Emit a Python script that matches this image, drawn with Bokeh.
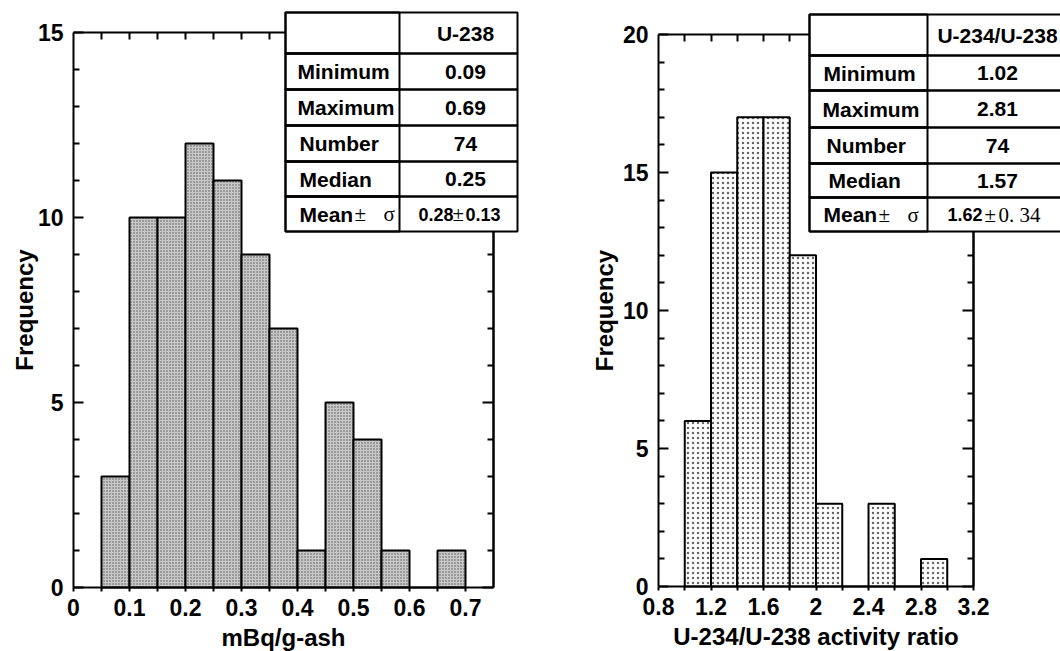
from bokeh.plotting import figure
from bokeh.models import LinearAxis, FixedTicker, Range1d, BoxAnnotation, Label
from bokeh.layouts import row
from bokeh.embed import file_html
from bokeh.resources import INLINE

# ---------------- data ----------------
u238_bin_lo = [0.05, 0.10, 0.15, 0.20, 0.25, 0.30, 0.35, 0.40, 0.45, 0.50, 0.55, 0.60, 0.65]
u238_bin_hi = [0.10, 0.15, 0.20, 0.25, 0.30, 0.35, 0.40, 0.45, 0.50, 0.55, 0.60, 0.65, 0.70]
u238_counts = [3, 10, 10, 12, 11, 9, 7, 1, 5, 4, 1, 0, 1]

ratio_bin_lo = [1.0, 1.2, 1.4, 1.6, 1.8, 2.0, 2.2, 2.4, 2.6, 2.8]
ratio_bin_hi = [1.2, 1.4, 1.6, 1.8, 2.0, 2.2, 2.4, 2.6, 2.8, 3.0]
ratio_counts = [6, 15, 17, 17, 12, 3, 0, 3, 0, 1]

u238_tick_values = [0.0, 0.1, 0.2, 0.3, 0.4, 0.5, 0.6, 0.7]
u238_tick_labels = ["0", "0.1", "0.2", "0.3", "0.4", "0.5", "0.6", "0.7"]
u238_minor_ticks = [0.05, 0.15, 0.25, 0.35, 0.45, 0.55, 0.65]
ratio_tick_values = [0.8, 1.2, 1.6, 2.0, 2.4, 2.8, 3.2]
ratio_tick_labels = ["0.8", "1.2", "1.6", "2", "2.4", "2.8", "3.2"]
ratio_minor_ticks = [1.0, 1.4, 1.8, 2.2, 2.6, 3.0]
u238_freq_ticks = [0, 5, 10, 15]
u238_freq_labels = ["0", "5", "10", "15"]
ratio_freq_ticks = [0, 5, 10, 15, 20]
ratio_freq_labels = ["0", "5", "10", "15", "20"]

stat_names = ["Minimum", "Maximum", "Number", "Median"]
u238_header = "U-238"
u238_stats = ["0.09", "0.69", "74", "0.25"]
u238_mean, u238_sd = "0.28", "0.13"
ratio_header = "U-234/U-238"
ratio_stats = ["1.02", "2.81", "74", "1.57"]
ratio_mean, ratio_sd = "1.62", "0. 34"

x_title_1 = "mBq/g-ash"
x_title_2 = "U-234/U-238 activity ratio"
y_title = "Frequency"

# ---------------- layout / style ----------------
SANS = "Liberation Sans"
SERIF = "Liberation Serif"
H = 651
TOP = 0          # page y of canvas top


def style_axis(ax, tin, tout, mtin, mtout):
    ax.axis_line_color = "black"
    ax.axis_line_width = 2
    ax.major_tick_line_color = "black"
    ax.major_tick_line_width = 2
    ax.minor_tick_line_color = "black"
    ax.minor_tick_line_width = 2
    ax.major_tick_in = tin
    ax.major_tick_out = tout
    ax.minor_tick_in = mtin
    ax.minor_tick_out = mtout
    ax.major_label_text_font = SANS
    ax.major_label_text_font_size = "23px"
    ax.major_label_text_font_style = "bold"
    ax.major_label_text_color = "black"
    ax.axis_label_text_font = SANS
    ax.axis_label_text_font_size = "24px"
    ax.axis_label_text_font_style = "bold"
    ax.axis_label_text_color = "black"


def make_panel(left, width, xg, yg, xticks, xlabels, xminor, yticks, ylabels, xtitle, ytitle_gap):
    """xg = (page px of x0, page px of x1, x0, x1); yg = (page px of y0, page px of y1, y0, y1)"""
    px0, px1, x0, x1 = xg
    py0, py1, y0, y1 = yg
    sx = (px1 - px0) / (x1 - x0)
    sy = (py0 - py1) / (y1 - y0)
    xr = Range1d(x0 - (px0 - left) / sx, x0 + (left + width - px0) / sx)
    yr = Range1d(y0 - (TOP + H - py0) / sy, y0 + (py0 - TOP) / sy)
    p = figure(width=width, height=H, x_range=xr, y_range=yr, x_axis_type=None, y_axis_type=None,
               output_backend="svg", toolbar_location=None, title=None)
    p.min_border = 0
    p.min_border_left = p.min_border_right = p.min_border_top = p.min_border_bottom = 0
    p.outline_line_color = None
    p.background_fill_color = "white"
    p.border_fill_color = "white"

    yminor = [v for v in range(int(y0), int(y1) + 1) if v % 5]

    bottom = LinearAxis(fixed_location=y0, bounds=(x0, x1),
                        ticker=FixedTicker(ticks=xticks, minor_ticks=xminor))
    bottom.major_label_overrides = dict(zip(xticks, xlabels))
    style_axis(bottom, 0, 4, 0, 4)
    bottom.major_label_standoff = 7
    bottom.axis_label = xtitle
    bottom.axis_label_standoff = 5
    p.add_layout(bottom, "below")

    left_ax = LinearAxis(fixed_location=x0, bounds=(y0, y1),
                         ticker=FixedTicker(ticks=yticks, minor_ticks=yminor))
    left_ax.major_label_overrides = dict(zip(yticks, ylabels))
    style_axis(left_ax, 10, 0, 6, 0)
    left_ax.major_label_standoff = 10
    left_ax.axis_label = y_title
    left_ax.axis_label_standoff = ytitle_gap
    p.add_layout(left_ax, "left")

    # unlabeled tick rows on top and right (minor ticks only -> no label texts)
    top = LinearAxis(fixed_location=y1, bounds=(x0, x1),
                     ticker=FixedTicker(ticks=[], minor_ticks=sorted(xticks[1:] + xminor)))
    style_axis(top, 0, 0, 7, 0)
    p.add_layout(top, "above")
    right_major = LinearAxis(fixed_location=x1, bounds=(y0, y1),
                             ticker=FixedTicker(ticks=[], minor_ticks=yticks))
    style_axis(right_major, 0, 0, 11, 0)
    p.add_layout(right_major, "right")
    right_minor = LinearAxis(fixed_location=x1, bounds=(y0, y1),
                             ticker=FixedTicker(ticks=[], minor_ticks=yminor))
    style_axis(right_minor, 0, 0, 6, 0)
    p.add_layout(right_minor, "right")

    def fx(px):
        return x0 + (px - px0) / sx

    def fy(py):
        return y0 + (py0 - py) / sy

    return p, fx, fy


def add_table(p, fx, fy, L, M, R, rows, name_x, val_cx, header, header_size, vals, mean_parts):
    p.add_layout(BoxAnnotation(left=fx(L), right=fx(R), top=fy(rows[0]), bottom=fy(rows[-1]),
                               fill_color="white", fill_alpha=1, line_color=None))
    for i in range(len(rows) - 1):
        t, b = fy(rows[i]), fy(rows[i + 1])
        p.add_layout(BoxAnnotation(left=fx(L), right=fx(R), top=t, bottom=b, fill_color=None,
                                   line_color="black", line_alpha=1, line_width=2))
        p.add_layout(BoxAnnotation(left=fx(L), right=fx(M), top=t, bottom=b, fill_color=None,
                                   line_color="black", line_alpha=1, line_width=2))
    mids = [fy((rows[i] + rows[i + 1]) / 2) for i in range(len(rows) - 1)]

    def lab(xpx, y, text, font=SANS, size="21px", style="bold", align="left"):
        p.add_layout(Label(x=fx(xpx), y=y, text=text, text_font=font, text_font_size=size,
                           text_font_style=style, text_align=align, text_baseline="middle",
                           text_color="black"))

    lab(val_cx, mids[0], header, size=header_size, align="center")
    for i, (nm, v) in enumerate(zip(stat_names, vals)):
        lab(name_x[i], mids[i + 1], nm)
        lab(val_cx, mids[i + 1], v, align="center")
    ym = mids[5]
    lab(name_x[4], ym, "Mean")
    lab(name_x[4] + 55, ym, "\u00b1", font=SERIF, style="normal")
    lab(name_x[4] + 84, ym, "\u03c3", font=SERIF, style="normal")
    (m_txt, m_x), pm_x, (s_txt, s_x, s_font, s_style, s_size) = mean_parts
    lab(m_x, ym, m_txt, size="18px")
    lab(pm_x, ym, "\u00b1", font=SERIF, style="normal")
    lab(s_x, ym, s_txt, font=s_font, style=s_style, size=s_size)


# ---------------- left panel ----------------
p1, fx1, fy1 = make_panel(0, 530, (73, 493, 0.0, 0.75), (587, 32, 0, 15),
                          u238_tick_values, u238_tick_labels, u238_minor_ticks,
                          u238_freq_ticks, u238_freq_labels, x_title_1, -3)
p1.quad(left=u238_bin_lo, right=u238_bin_hi, top=u238_counts, bottom=0,
        fill_color="#c8c8c8", line_color="black", line_width=2,
        hatch_pattern="dot", hatch_color="#555555", hatch_scale=3, hatch_weight=1)
add_table(p1, fx1, fy1, 285, 399, 517, [12, 53, 89, 125, 161, 196, 231],
          [297, 297, 299, 299, 299], 465, u238_header, "21px", u238_stats,
          ((u238_mean, 418), 452, (u238_sd, 465, SANS, "bold", "18px")))

# ---------------- right panel ----------------
p2, fx2, fy2 = make_panel(530, 530, (658, 973, 0.8, 3.2), (586, 34, 0, 20),
                          ratio_tick_values, ratio_tick_labels, ratio_minor_ticks,
                          ratio_freq_ticks, ratio_freq_labels, x_title_2, 2)
p2.quad(left=ratio_bin_lo, right=ratio_bin_hi, top=ratio_counts, bottom=0,
        fill_color="white", line_color="black", line_width=2,
        hatch_pattern="dot", hatch_color="#666666", hatch_scale=5, hatch_weight=1)
add_table(p2, fx2, fy2, 809, 927, 1075, [14, 55, 90, 127, 163, 197, 231],
          [823, 822, 826, 828, 823], 997, ratio_header, "21px", ratio_stats,
          ((ratio_mean, 947), 984, (ratio_sd, 998, SERIF, "normal", "21px")))

layout = row(p1, p2)
open("out.html", "w").write(file_html(layout, INLINE))
